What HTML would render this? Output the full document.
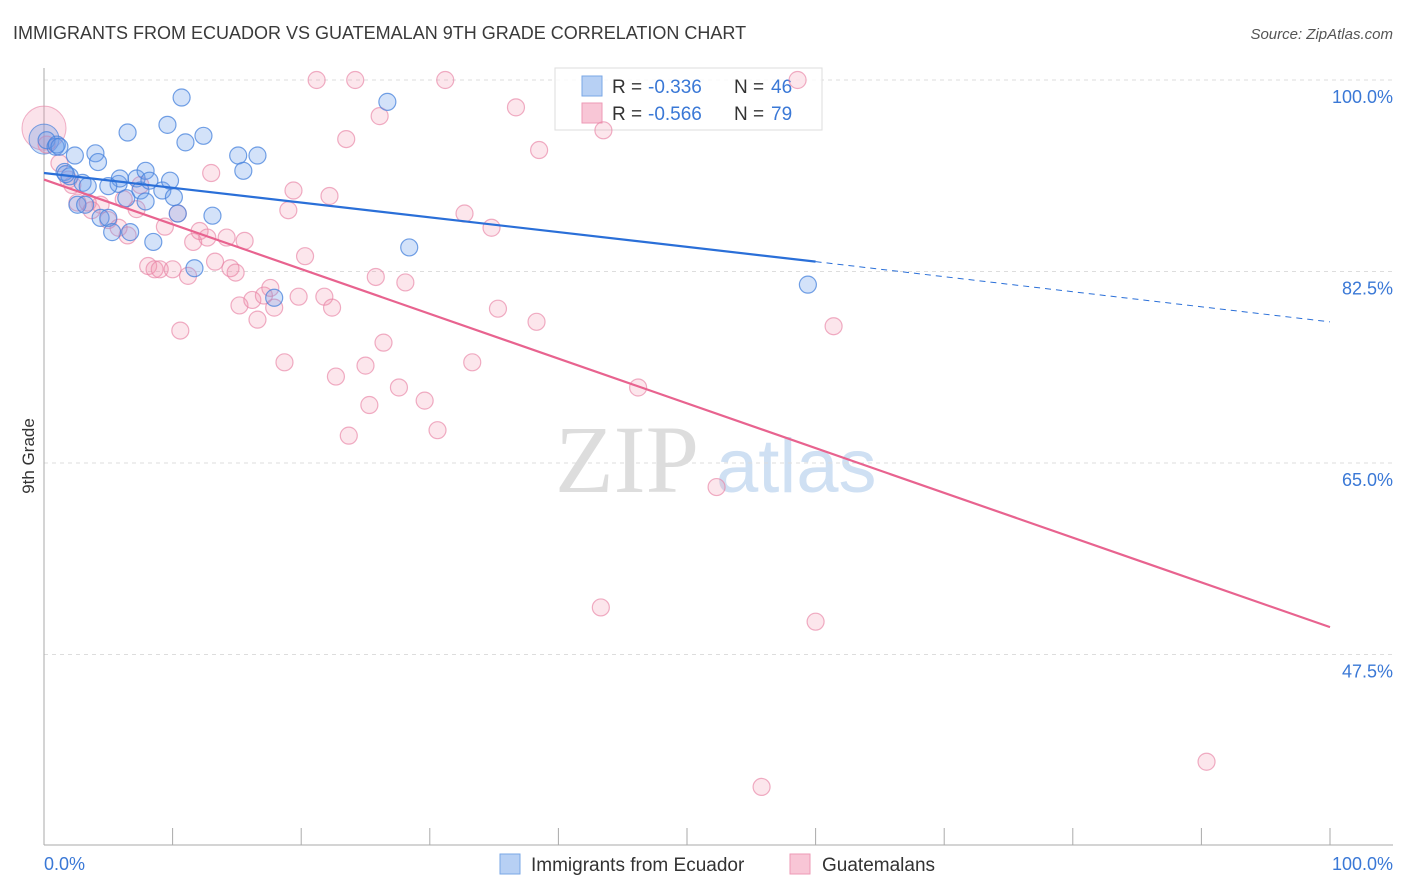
<!DOCTYPE html>
<html><head><meta charset="utf-8"><style>
body{margin:0;background:#fff;font-family:"Liberation Sans",sans-serif;}
</style></head><body>
<svg id="chart" width="1406" height="892" xmlns="http://www.w3.org/2000/svg" style="display:block">
<text x="13" y="39" font-size="18" fill="#3a3a3a" font-family="Liberation Sans, sans-serif">IMMIGRANTS FROM ECUADOR VS GUATEMALAN 9TH GRADE CORRELATION CHART</text>
<text x="1393" y="39" font-size="15" fill="#555" text-anchor="end" font-style="italic">Source: ZipAtlas.com</text>
<g>
<text x="555" y="492" font-size="96" fill="#ddd" font-family="Liberation Serif, serif">ZIP</text>
<text x="716" y="492" font-size="76" fill="#cfe0f3" font-family="Liberation Sans, sans-serif">atlas</text>
</g>
<g id="grid"></g>
<g id="axes"></g>
<g>
<rect x="555" y="68" width="267" height="62" fill="#fff" fill-opacity="0.85" stroke="#ddd"/>
<rect x="582" y="76" width="20" height="20" fill="#b7d0f4" stroke="#7aa7e6"/>
<text x="612" y="93" font-size="19" fill="#333">R =</text>
<text x="648" y="93" font-size="19" fill="#3a78d6">-0.336</text>
<text x="734" y="93" font-size="19" fill="#333">N =</text>
<text x="771" y="93" font-size="19" fill="#3a78d6">46</text>
<rect x="582" y="103" width="20" height="20" fill="#f8c6d6" stroke="#ee9ab6"/>
<text x="612" y="120" font-size="19" fill="#333">R =</text>
<text x="648" y="120" font-size="19" fill="#3a78d6">-0.566</text>
<text x="734" y="120" font-size="19" fill="#333">N =</text>
<text x="771" y="120" font-size="19" fill="#3a78d6">79</text>
</g>
<g id="marks"></g>
<g id="lines"></g>
<text transform="translate(34,456) rotate(-90)" font-size="17" fill="#333" text-anchor="middle">9th Grade</text>
<g>
<rect x="500" y="854" width="20" height="20" fill="#b7d0f4" stroke="#7aa7e6"/>
<text x="531" y="871" font-size="19" fill="#333">Immigrants from Ecuador</text>
<rect x="790" y="854" width="20" height="20" fill="#f8c6d6" stroke="#ee9ab6"/>
<text x="822" y="871" font-size="19" fill="#333">Guatemalans</text>
</g>
</svg>
<script>
const yTicks=[100,82.5,65,47.5];
const yTickLabels=["100.0%","82.5%","65.0%","47.5%"];
const xTickCount=10;
const blueX=[0.2,0.9,1.0,2.4,4.0,4.2,1.6,2.0,3.0,3.4,2.6,3.2,4.4,5.0,5.3,5.8,5.9,6.4,6.7,6.5,7.2,7.5,7.9,7.9,8.2,8.5,9.2,9.6,9.8,10.1,10.4,10.7,11.0,12.4,13.1,11.7,15.1,15.5,16.6,17.9,26.7,28.4,59.4,5.0,1.7,1.2];
const blueY=[94.5,93.9,94.1,93.1,93.3,92.5,91.6,91.2,90.6,90.3,88.6,88.6,87.4,87.4,86.1,90.5,91.0,89.2,86.1,95.2,91.0,89.9,91.7,88.9,90.8,85.2,89.9,95.9,90.8,89.3,87.8,98.4,94.3,94.9,87.6,82.8,93.1,91.7,93.1,80.1,98.0,84.7,81.3,90.3,91.4,93.9];
const pinkX=[0.2,1.2,1.9,2.2,2.6,3.4,3.7,4.4,5.0,5.8,6.5,6.2,7.2,7.5,8.1,8.6,9.0,10.0,10.6,11.2,9.4,10.4,11.6,12.1,12.7,13.0,13.3,14.2,14.5,14.9,15.6,15.2,16.2,16.6,17.1,17.6,17.9,18.7,19.0,19.4,19.8,20.3,21.2,21.8,22.2,22.4,22.7,23.5,23.7,24.2,25.0,25.3,25.8,26.1,26.4,27.6,28.1,29.6,30.6,31.2,32.7,33.3,34.8,35.3,36.7,38.3,38.5,43.3,43.5,46.2,52.3,58.6,60.0,61.4,55.8,90.4];
const pinkY=[94.1,92.4,90.9,90.4,88.8,88.8,88.1,88.6,87.2,86.5,85.8,89.1,88.2,90.4,83.0,82.7,82.7,82.7,77.1,82.1,86.6,87.8,85.2,86.2,85.6,91.5,83.4,85.6,82.8,82.4,85.3,79.4,79.9,78.1,80.3,81.0,79.2,74.2,88.1,89.9,80.2,83.9,100,80.2,89.4,79.2,72.9,94.6,67.5,100,73.9,70.3,82.0,96.7,76.0,71.9,81.5,70.7,68.0,100,87.8,74.2,86.5,79.1,97.5,77.9,93.6,51.8,95.4,71.9,62.8,100,50.5,77.5,35.4,37.7];
const bigBlue=[0,94.6];
const bigPink=[0,95.6];
const blueTrend=[91.5,83.4,77.9];
const blueTrendX=[0,60,100];
const pinkTrend=[90.9,50.0];
const pinkTrendX=[0,100];

const NS="http://www.w3.org/2000/svg";
const X0=44,X1=1330,Y100=80,PXPER=191.5/17.5;
const sx=v=>X0+(X1-X0)*v/100;
const sy=v=>Y100+(100-v)*PXPER;
function mk(tag,attrs,parent){const e=document.createElementNS(NS,tag);for(const k in attrs)e.setAttribute(k,attrs[k]);parent.appendChild(e);return e;}
const grid=document.getElementById('grid'),axes=document.getElementById('axes'),marks=document.getElementById('marks'),lines=document.getElementById('lines');
yTicks.forEach((t,i)=>{
 const g=mk('line',{x1:X0,x2:1393,y1:sy(t),y2:sy(t),stroke:'#ddd','stroke-dasharray':'4,4'},grid);
 
 
 const l=mk('text',{x:1393,y:sy(t)+23,'font-size':18,fill:'#3a78d6','text-anchor':'end'},axes);
 l.textContent=yTickLabels[i];
 
 
});
const ya=mk('line',{x1:X0,x2:X0,y1:68,y2:845,stroke:'#aaa'},axes);


const xa=mk('line',{x1:X0,x2:1393,y1:845,y2:845,stroke:'#aaa'},axes);


for(let i=0;i<=xTickCount;i++){
 const t=mk('line',{x1:sx(i*10),x2:sx(i*10),y1:828,y2:845,stroke:'#aaa'},axes);
 
 
}
const xl0=mk('text',{x:X0,y:870,'font-size':18,fill:'#3a78d6'},axes);xl0.textContent='0.0%';


const xl1=mk('text',{x:1393,y:870,'font-size':18,fill:'#3a78d6','text-anchor':'end'},axes);xl1.textContent='100.0%';


const bp=mk('circle',{cx:sx(bigPink[0]),cy:sy(bigPink[1]),r:22,fill:'rgba(240,140,170,0.25)',stroke:'rgba(232,130,165,0.6)'},marks);


const bb=mk('circle',{cx:sx(bigBlue[0]),cy:sy(bigBlue[1]),r:15,fill:'rgba(100,150,230,0.3)',stroke:'rgba(70,130,220,0.7)'},marks);


pinkX.forEach((x,i)=>{
 const c=mk('circle',{cx:sx(x),cy:sy(pinkY[i]),r:8.5,fill:'rgba(240,140,170,0.22)',stroke:'rgba(232,130,165,0.65)','stroke-width':1.2},marks);
 
 
});
blueX.forEach((x,i)=>{
 const c=mk('circle',{cx:sx(x),cy:sy(blueY[i]),r:8.5,fill:'rgba(110,160,235,0.3)',stroke:'rgba(70,130,220,0.75)','stroke-width':1.2},marks);
 
 
});
const bl=mk('line',{x1:sx(blueTrendX[0]),y1:sy(blueTrend[0]),x2:sx(blueTrendX[1]),y2:sy(blueTrend[1]),stroke:'#2a6fd8','stroke-width':2.2},lines);


const bd=mk('line',{x1:sx(blueTrendX[1]),y1:sy(blueTrend[1]),x2:sx(blueTrendX[2]),y2:sy(blueTrend[2]),stroke:'#2a6fd8','stroke-width':1,'stroke-dasharray':'6,5'},lines);


const pl=mk('line',{x1:sx(pinkTrendX[0]),y1:sy(pinkTrend[0]),x2:sx(pinkTrendX[1]),y2:sy(pinkTrend[1]),stroke:'#e8638f','stroke-width':2.2},lines);


</script>
</body></html>
